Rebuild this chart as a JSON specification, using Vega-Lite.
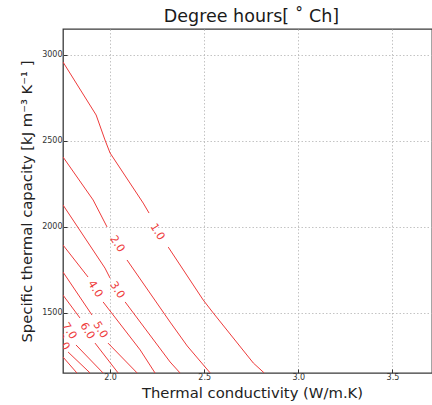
{
  "$schema": "https://vega.github.io/schema/vega-lite/v6.json",
  "autosize": {"type": "none"},
  "padding": {"left": 63, "top": 29, "right": 0, "bottom": 32},
  "width": 369,
  "height": 344,
  "background": "white",
  "config": {
    "font": "DejaVu Sans",
    "view": {"stroke": "#3a3a3a", "strokeWidth": 1.3},
    "axis": {
      "domain": false,
      "grid": true,
      "gridColor": "#b5b5b5",
      "gridDash": [1.5, 2],
      "gridWidth": 0.8,
      "tickColor": "#333",
      "tickSize": -4,
      "labelFont": "DejaVu Sans",
      "labelFontSize": 8,
      "labelColor": "#333",
      "titleFont": "DejaVu Sans",
      "titleFontWeight": "normal",
      "titleFontSize": 14.8,
      "titleColor": "#222"
    }
  },
  "title": {
    "text": "Degree hours[ ˚ Ch]",
    "font": "DejaVu Sans",
    "fontSize": 17.5,
    "fontWeight": "normal",
    "color": "#1a1a1a",
    "offset": 4,
    "dx": 4
  },
  "datasets": {
    "lines": [
      {"seg": "1a", "o": 1, "x": 1.75, "y": 2958},
      {"seg": "1a", "o": 2, "x": 1.926, "y": 2650},
      {"seg": "1a", "o": 3, "x": 1.973, "y": 2505},
      {"seg": "1a", "o": 4, "x": 2.0, "y": 2429},
      {"seg": "1a", "o": 5, "x": 2.176, "y": 2138},
      {"seg": "1a", "o": 6, "x": 2.207, "y": 2080},
      {"seg": "1b", "o": 1, "x": 2.309, "y": 1882},
      {"seg": "1b", "o": 2, "x": 2.495, "y": 1574},
      {"seg": "1b", "o": 3, "x": 2.548, "y": 1499},
      {"seg": "1b", "o": 4, "x": 2.761, "y": 1208},
      {"seg": "1b", "o": 5, "x": 2.819, "y": 1150},
      {"seg": "2a", "o": 1, "x": 1.75, "y": 2406},
      {"seg": "2a", "o": 2, "x": 1.91, "y": 2156},
      {"seg": "2a", "o": 3, "x": 1.984, "y": 1999},
      {"seg": "2b", "o": 1, "x": 2.09, "y": 1807},
      {"seg": "2b", "o": 2, "x": 2.319, "y": 1446},
      {"seg": "2b", "o": 3, "x": 2.41, "y": 1307},
      {"seg": "2b", "o": 4, "x": 2.532, "y": 1150},
      {"seg": "3a", "o": 1, "x": 1.75, "y": 2127},
      {"seg": "3a", "o": 2, "x": 1.973, "y": 1760},
      {"seg": "3a", "o": 3, "x": 2.0, "y": 1702},
      {"seg": "3b", "o": 1, "x": 2.08, "y": 1563},
      {"seg": "3b", "o": 2, "x": 2.319, "y": 1214},
      {"seg": "3b", "o": 3, "x": 2.372, "y": 1150},
      {"seg": "4a", "o": 1, "x": 1.75, "y": 1894},
      {"seg": "4a", "o": 2, "x": 1.883, "y": 1708},
      {"seg": "4b", "o": 1, "x": 1.963, "y": 1563},
      {"seg": "4b", "o": 2, "x": 2.16, "y": 1284},
      {"seg": "4b", "o": 3, "x": 2.239, "y": 1150},
      {"seg": "5a", "o": 1, "x": 1.75, "y": 1737},
      {"seg": "5a", "o": 2, "x": 1.904, "y": 1487},
      {"seg": "5b", "o": 1, "x": 1.989, "y": 1324},
      {"seg": "5b", "o": 2, "x": 2.144, "y": 1150},
      {"seg": "6a", "o": 1, "x": 1.75, "y": 1603},
      {"seg": "6a", "o": 2, "x": 1.84, "y": 1470},
      {"seg": "6b", "o": 1, "x": 1.92, "y": 1324},
      {"seg": "6b", "o": 2, "x": 2.043, "y": 1150},
      {"seg": "7b", "o": 1, "x": 1.819, "y": 1313},
      {"seg": "7b", "o": 2, "x": 1.963, "y": 1150},
      {"seg": "8b", "o": 1, "x": 1.777, "y": 1272},
      {"seg": "8b", "o": 2, "x": 1.894, "y": 1150},
      {"seg": "9a", "o": 1, "x": 1.75, "y": 1243},
      {"seg": "9a", "o": 2, "x": 1.824, "y": 1150}
    ],
    "labels": [
      {"label": "1.0", "x": 2.25, "y": 1970},
      {"label": "2.0", "x": 2.037, "y": 1900},
      {"label": "3.0", "x": 2.037, "y": 1632},
      {"label": "4.0", "x": 1.92, "y": 1638},
      {"label": "5.0", "x": 1.947, "y": 1400},
      {"label": "6.0", "x": 1.878, "y": 1394},
      {"label": "7.0", "x": 1.782, "y": 1394},
      {"label": "8.0", "x": 1.745, "y": 1330}
    ]
  },
  "layer": [
    {
      "data": {"name": "lines"},
      "mark": {"type": "line", "color": "#ee3b3b", "strokeWidth": 1, "clip": true},
      "encoding": {
        "x": {
          "field": "x", "type": "quantitative",
          "scale": {"domain": [1.75, 3.71], "nice": false, "zero": false},
          "axis": {"values": [2.0, 2.5, 3.0, 3.5], "format": ".1f", "labelPadding": 4, "title": "Thermal conductivity (W/m.K)", "titleX": 189, "titlePadding": 4}
        },
        "y": {
          "field": "y", "type": "quantitative",
          "scale": {"domain": [1150, 3150], "nice": false, "zero": false},
          "axis": {"values": [1500, 2000, 2500, 3000], "format": "d", "labelPadding": 5, "title": "Specific thermal capacity [kJ m⁻³  K⁻¹ ]", "titlePadding": 7}
        },
        "detail": {"field": "seg", "type": "nominal"},
        "order": {"field": "o", "type": "quantitative"}
      }
    },
    {
      "data": {"name": "labels"},
      "mark": {"type": "text", "color": "#ee3b3b", "fontSize": 11, "angle": 58, "font": "DejaVu Sans", "clip": true},
      "encoding": {
        "x": {"field": "x", "type": "quantitative"},
        "y": {"field": "y", "type": "quantitative"},
        "text": {"field": "label", "type": "nominal"}
      }
    }
  ]
}
